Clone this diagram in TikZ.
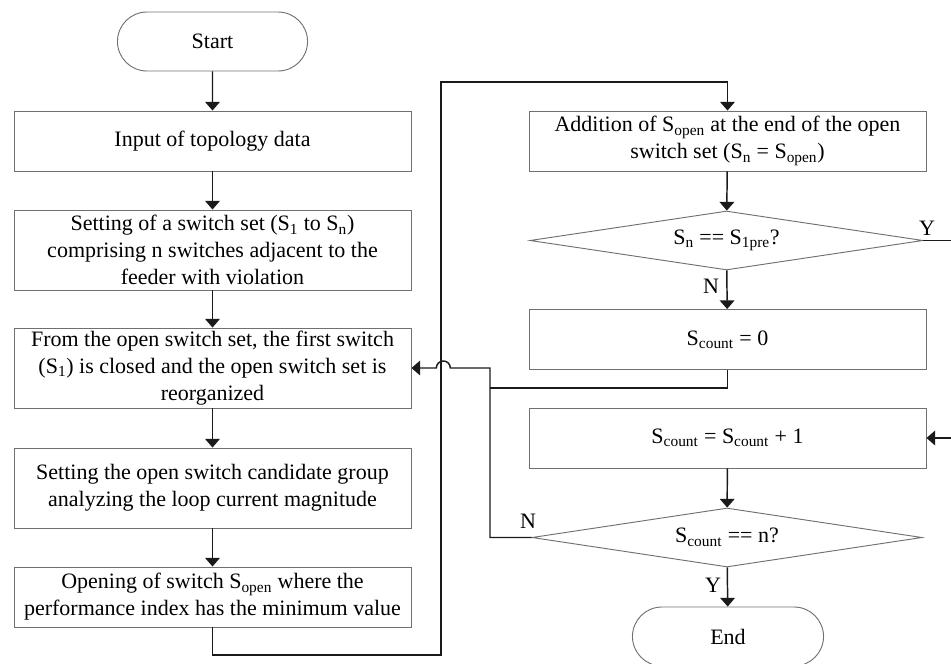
\documentclass[tikz,border=0pt]{standalone}
\usepackage{fontspec}
\setmainfont{Liberation Serif}
\usetikzlibrary{arrows.meta, positioning, shapes.geometric, shapes.misc}
\definecolor{CBorder}{HTML}{707070}
\definecolor{CLine}{HTML}{1A1A1A}

\begin{document}
\begin{tikzpicture}[x=0.75pt, y=-0.75pt,
    font=\fontsize{16.5}{20.3}\selectfont,
    procbox/.style={draw=CBorder, line width=0.7pt, rectangle, align=center, inner sep=2pt, minimum width=297.75pt, minimum height=45pt},
    tallbox/.style={procbox, minimum height=60pt},
    termbox/.style={draw=CBorder, line width=0.7pt, rounded rectangle, minimum width=149.25pt, minimum height=44.25pt},
    decbox/.style={draw=CBorder, line width=0.7pt, diamond, shape aspect=6.66, inner sep=0pt, minimum width=294.75pt, minimum height=44.25pt},
    flow/.style={CLine, line width=1.1pt, -{Triangle[width=11pt,length=6.5pt]}},
    conn/.style={CLine, line width=1.1pt},
    yn/.style={inner sep=0pt}]
    % Page frame
    \useasboundingbox (0,0) rectangle (951,664);

    % Left column
    \node[termbox] (start) at (212.5,41.5) {Start};
    \node[procbox] (input) at (212.5,141) {Input of topology data};
    \node[tallbox] (setsw) at (212.5,250) {Setting of a switch set (S\textsubscript{1} to S\textsubscript{n})\\comprising n switches adjacent to the\\feeder with violation};
    \node[tallbox] (close) at (212.5,368) {From the open switch set, the first switch\\(S\textsubscript{1}) is closed and the open switch set is\\reorganized};
    \node[tallbox] (cand) at (212.5,488) {Setting the open switch candidate group\\analyzing the loop current magnitude};
    \node[procbox] (open) at (212.5,597) {Opening of switch S\textsubscript{open} where the\\performance index has the minimum value};

    % Right column
    \node[procbox] (add) at (727.5,141) {Addition of S\textsubscript{open} at the end of the open\\switch set (S\textsubscript{n} = S\textsubscript{open})};
    \node[decbox] (dpre) at (726.5,240.5) {S\textsubscript{n} == S\textsubscript{1pre}?};
    \node[procbox] (zero) at (727.5,339.5) {S\textsubscript{count} = 0};
    \node[procbox] (inc) at (727.5,438) {S\textsubscript{count} = S\textsubscript{count} + 1};
    \node[decbox, minimum width=292.5pt] (dcnt) at (727,537.5) {S\textsubscript{count} == n?};
    \node[termbox, minimum width=150pt] (end) at (728,636.5) {End};

    % Routing points
    \coordinate (lb) at (441,655);
    \coordinate (lt) at (441,82);
    \coordinate (jn) at (490,388);
    \coordinate (jv) at (490,368);
    \coordinate (rY) at (951,240.5);
    \coordinate (rIn) at (951,438);

    % Main sequence
    \draw[flow] (start) -- (input);
    \draw[flow] (input) -- (setsw);
    \draw[flow] (setsw) -- (close);
    \draw[flow] (close) -- (cand);
    \draw[flow] (cand) -- (open);
    \draw[flow] (open.south) |- (lb) -- (lt) -| (add.north);
    \draw[flow] (add) -- (dpre);
    \draw[flow] (dpre) -- (zero);
    \draw[conn] (zero.south) |- (jn);
    \draw[flow] (inc) -- (dcnt);
    \draw[flow] (dcnt) -- (end);

    % Loop back with hop over the vertical line
    \draw[flow] (dcnt.west) -| (jv) -- ([xshift=7]lt |- jv) arc (0:-180:7) -- (close.east);

    % Cut-off branches at the right edge
    \draw[conn] (dpre.east) -- (rY);
    \draw[flow] (rIn) -- (inc.east);

    % Branch labels
    \node[yn] at (927,228) {Y};
    \node[yn] at (711,286) {N};
    \node[yn] at (528,521) {N};
    \node[yn] at (713,585) {Y};
\end{tikzpicture}
\end{document}
